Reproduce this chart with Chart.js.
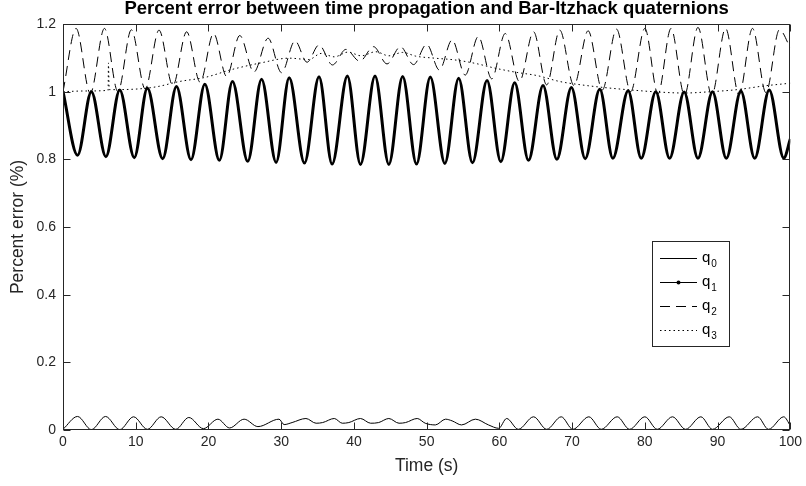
<!DOCTYPE html>
<html><head><meta charset="utf-8">
<script src="https://cdn.jsdelivr.net/npm/chart.js@4.4.0/dist/chart.umd.min.js"></script>
<style>html,body{margin:0;padding:0;background:#fff}#wrap{width:806px;height:486px}</style>
</head><body><div id="wrap"><canvas id="c" width="806" height="486"></canvas></div>
<script>
// ---- data ----
const q0X = [0,2.0,3.9,5.85,7.8,9.7,11.6,13.5,15.5,17.3,19.3,21.3,22.9,24.9,26.8,29.7,30.4,31.5,33.4,34.8,35.7,37.3,38.4,39.3,40.9,42.3,43.4,44.8,46.2,47.1,48.7,49.8,51.2,52.6,53.5,54.8,56.7,58.5,59.9,61.0,62.6,64.7,66.5,68.5,70.1,72.3,74.0,76.2,77.9,80.0,81.7,83.8,85.6,87.7,89.3,91.6,93.2,95.5,97.0,99.1,100];
const q0Y = [0.002,0.040,0.001,0.040,0.001,0.039,0.002,0.039,0.002,0.037,0.004,0.032,0.006,0.032,0.010,0.032,0.016,0.022,0.034,0.020,0.022,0.034,0.020,0.022,0.034,0.020,0.022,0.034,0.020,0.022,0.034,0.020,0.015,0.032,0.027,0.015,0.032,0.015,0.005,0.034,0.002,0.039,0.002,0.039,0.002,0.039,0.002,0.039,0.002,0.039,0.002,0.039,0.002,0.039,0.002,0.039,0.002,0.039,0.002,0.039,0.013];

const q1X = [0,2.0,3.9,5.9,7.8,9.8,11.6,13.7,15.6,17.6,19.5,21.5,23.3,25.4,27.3,29.3,31.1,33.2,35.2,37.0,39.1,40.9,42.9,44.8,46.7,48.6,50.5,52.5,54.4,56.3,58.3,60.2,62.1,64.0,66.0,67.9,69.9,71.8,73.8,75.6,77.7,79.5,81.5,83.4,85.4,87.3,89.3,91.2,93.2,95.1,97.1,99.1,100];
const q1Y = [1.0,0.812,1.0,0.808,1.005,0.805,1.01,0.802,1.015,0.799,1.022,0.797,1.03,0.794,1.037,0.791,1.041,0.789,1.044,0.786,1.046,0.785,1.046,0.785,1.045,0.786,1.043,0.788,1.04,0.79,1.033,0.793,1.026,0.797,1.018,0.8,1.012,0.802,1.007,0.803,1.003,0.803,1.0,0.803,0.999,0.803,1.0,0.803,1.002,0.803,1.005,0.804,0.86];

const q2X = [0,1.8,3.75,5.7,7.55,9.4,11.3,13.2,15.1,17.0,18.85,20.7,22.5,24.3,26.25,28.2,30.05,31.9,33.55,35.2,37.05,38.9,40.8,42.7,44.55,46.4,48.2,50.0,51.75,53.5,55.3,57.1,58.95,60.8,62.75,64.7,66.5,68.3,70.25,72.2,74.15,76.1,78.05,80.0,81.8,83.6,85.45,87.3,89.2,91.1,92.95,94.8,96.65,98.5,100];
const q2Y = [1.0,1.187,0.995,1.187,1.0,1.183,1.008,1.182,1.018,1.177,1.028,1.172,1.045,1.166,1.058,1.158,1.056,1.15,1.087,1.138,1.079,1.125,1.09,1.133,1.082,1.133,1.08,1.14,1.064,1.153,1.049,1.163,1.038,1.172,1.03,1.177,1.02,1.182,1.018,1.18,1.005,1.185,1.0,1.187,0.993,1.187,0.99,1.19,0.99,1.187,0.99,1.187,0.997,1.183,1.13];

const q3X = [0,3,6.2,6.25,6.35,10.3,13.0,16.0,19.5,23.3,27.2,31.1,33.8,35.5,37.3,39.2,41.0,43.0,44.8,46.7,48.5,51.1,53.8,56.6,59.3,62.1,65.3,68.3,71.3,74.5,78.1,81.8,85.4,89.1,92.7,96.4,100];
const q3Y = [1.0,1.002,1.004,1.085,1.006,1.008,1.015,1.03,1.042,1.066,1.085,1.099,1.095,1.113,1.103,1.117,1.106,1.118,1.106,1.116,1.105,1.099,1.094,1.084,1.07,1.058,1.047,1.03,1.02,1.012,1.005,0.999,0.996,1.0,1.006,1.017,1.025];

const xTicks = [0,10,20,30,40,50,60,70,80,90,100];
const yTicks = [0,0.2,0.4,0.6,0.8,1,1.2];
const seriesBase = ['q','q','q','q'];
const seriesSub = ['0','1','2','3'];
const titleText = 'Percent error between time propagation and Bar-Itzhack quaternions';
const xLabel = 'Time (s)';
const yLabel = 'Percent error (%)';

// ---- chart ----
const FONT = "'Liberation Sans', Arial, Helvetica, sans-serif";
const AX = '#262626';
Chart.defaults.font.family = FONT;

const pts = (xs, ys) => xs.map((x, i) => ({x, y: ys[i]}));

const decor = {
  id: 'decor',
  afterDatasetsDraw(chart) {
    const {ctx, chartArea: a, scales: {x, y}} = chart;
    ctx.save();
    ctx.strokeStyle = AX;
    ctx.lineWidth = 1;
    const L = Math.round(a.left) + 0.5, R = Math.round(a.right) - 0.5;
    const T = Math.round(a.top) + 0.5, B = Math.round(a.bottom) - 0.5;
    ctx.strokeRect(L, T, R - L, B - T);
    const tl = 7;
    ctx.beginPath();
    xTicks.forEach(v => {
      const px = Math.round(x.getPixelForValue(v)) + 0.5;
      ctx.moveTo(px, B); ctx.lineTo(px, B - tl);
      ctx.moveTo(px, T); ctx.lineTo(px, T + tl);
    });
    yTicks.forEach(v => {
      const py = Math.round(y.getPixelForValue(v)) + 0.5;
      ctx.moveTo(L, py); ctx.lineTo(L + tl, py);
      ctx.moveTo(R, py); ctx.lineTo(R - tl, py);
    });
    ctx.stroke();

    // legend
    const bx = 652.5, by = 241.5, bw = 77, bh = 105;
    ctx.fillStyle = '#fff';
    ctx.fillRect(bx, by, bw, bh);
    ctx.strokeStyle = AX;
    ctx.strokeRect(bx, by, bw, bh);
    const rows = [258.5, 282.5, 306.5, 330.5];
    chart.data.datasets.forEach((ds, i) => {
      const yy = rows[i];
      ctx.save();
      ctx.strokeStyle = '#000';
      ctx.lineWidth = 1;
      ctx.setLineDash(ds.borderDash || []);
      ctx.beginPath(); ctx.moveTo(660, yy); ctx.lineTo(697, yy); ctx.stroke();
      ctx.restore();
      if (i === 1) {
        ctx.fillStyle = '#000';
        ctx.beginPath(); ctx.arc(678.5, yy, 2, 0, Math.PI * 2); ctx.fill();
      }
      ctx.fillStyle = '#000';
      ctx.textBaseline = 'alphabetic';
      ctx.textAlign = 'left';
      ctx.font = '15px ' + FONT;
      ctx.fillText(seriesBase[i], 702, yy + 3);
      const w = ctx.measureText(seriesBase[i]).width;
      ctx.font = '10px ' + FONT;
      ctx.fillText(seriesSub[i], 702 + w + 1, yy + 8);
    });
    ctx.restore();
  }
};

new Chart(document.getElementById('c'), {
  type: 'line',
  data: {
    datasets: [
      {label: 'q0', data: pts(q0X, q0Y), borderColor: '#000', borderWidth: 1, pointRadius: 0, cubicInterpolationMode: 'monotone', fill: false},
      {label: 'q1', data: pts(q1X, q1Y), borderColor: '#000', borderWidth: 3, pointRadius: 0, cubicInterpolationMode: 'monotone', fill: false},
      {label: 'q2', data: pts(q2X, q2Y), borderColor: '#000', borderWidth: 1, borderDash: [10, 6], pointRadius: 0, cubicInterpolationMode: 'monotone', fill: false},
      {label: 'q3', data: pts(q3X, q3Y), borderColor: '#000', borderWidth: 1, borderDash: [1.5, 3], pointRadius: 0, cubicInterpolationMode: 'monotone', fill: false}
    ]
  },
  options: {
    responsive: false,
    animation: false,
    layout: {padding: {left: 0, right: 13, top: 0, bottom: 0}},
    plugins: {
      legend: {display: false},
      tooltip: {enabled: false},
      title: {display: true, fullSize: false, text: titleText, color: '#000', font: {size: 18.5, weight: 'bold', family: FONT, lineHeight: 1.0}, padding: {top: 0, bottom: 5.5}}
    },
    scales: {
      x: {
        type: 'linear', min: 0, max: 100,
        afterBuildTicks: s => { s.ticks = xTicks.map(v => ({value: v})); },
        afterFit: s => { s.height = 56; },
        grid: {display: false, drawTicks: false},
        border: {display: false},
        ticks: {color: AX, font: {size: 14}, padding: 4, maxRotation: 0, autoSkip: false},
        title: {display: true, text: xLabel, color: AX, font: {size: 17.5, lineHeight: 1.2}, padding: {top: 0, bottom: 9.5}}
      },
      y: {
        type: 'linear', min: 0, max: 1.2,
        afterBuildTicks: s => { s.ticks = yTicks.map(v => ({value: v})); },
        afterFit: s => { s.width = 63; },
        grid: {display: false, drawTicks: false},
        border: {display: false},
        ticks: {color: AX, font: {size: 14}, padding: 7, autoSkip: false, callback: v => String(v)},
        title: {display: true, text: yLabel, color: AX, font: {size: 17.5, lineHeight: 1.2}, padding: {top: 7.5, bottom: 0}}
      }
    }
  },
  plugins: [decor]
});
</script>
</body></html>
